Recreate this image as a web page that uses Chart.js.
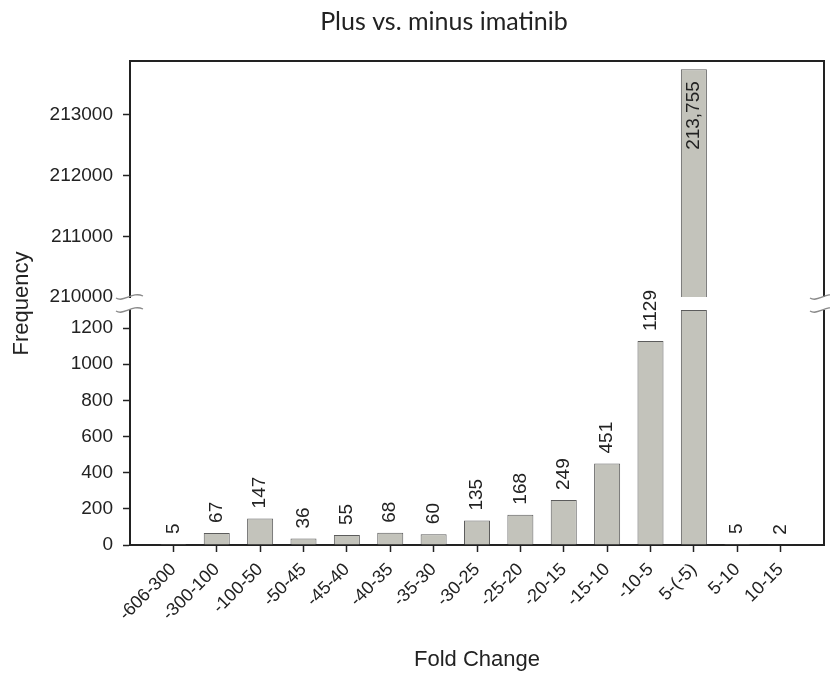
<!DOCTYPE html>
<html><head><meta charset="utf-8">
<script src="https://cdn.jsdelivr.net/npm/chart.js@4"></script>
<style>html,body{margin:0;padding:0;background:#fff}#wrap{width:830px;height:675px}</style>
</head><body><div id="wrap"><canvas id="c" width="830" height="675"></canvas></div>
<script>
const chartTitle = 'Plus vs. minus imatinib';
const xTitle = 'Fold Change';
const yTitle = 'Frequency';
const categories = ['-606-300','-300-100','-100-50','-50-45','-45-40','-40-35','-35-30','-30-25','-25-20','-20-15','-15-10','-10-5','5-(-5)','5-10','10-15'];
const frequencies = [5, 67, 147, 36, 55, 68, 60, 135, 168, 249, 451, 1129, 213755, 5, 2];
const lowTicks = [0, 200, 400, 600, 800, 1000, 1200];
const highTicks = [210000, 211000, 212000, 213000];
const lowRange = [0, 1300];
const highRange = [210000, 213890];

const LOW_MAX = lowRange[1];
const FONT = '"Liberation Sans", Arial, sans-serif';
const INK = '#222';

const lowData = frequencies.map((v, i) => ({x: i + 1, y: Math.min(v, LOW_MAX)}));
const highData = frequencies.map((v, i) => ({x: i + 1, y: v > LOW_MAX ? v : null}));

const titlePlugin = {
  id: 'mainTitle',
  afterDraw(chart) {
    const {ctx} = chart;
    ctx.save();
    ctx.font = '25px Lato, "Open Sans", sans-serif';
    ctx.fillStyle = INK;
    ctx.textAlign = 'center';
    ctx.textBaseline = 'middle';
    ctx.fillText(chartTitle, 444, 22);
    ctx.restore();
  }
};

const breakPlugin = {
  id: 'breaks',
  afterDraw(chart) {
    const {ctx, chartArea: {left, right, top, bottom}} = chart;
    const hi = chart.scales.yHigh, lo = chart.scales.yLow;
    ctx.save();
    ctx.strokeStyle = INK; ctx.lineWidth = 2;
    ctx.beginPath();
    ctx.moveTo(left - 1, top); ctx.lineTo(right + 1, top);
    ctx.moveTo(right, top); ctx.lineTo(right, hi.bottom);
    ctx.moveTo(right, lo.top); ctx.lineTo(right, bottom);
    ctx.stroke();
    ctx.strokeStyle = '#8a8a8a'; ctx.lineWidth = 1.3;
    for (const x of [left, right]) {
      for (const y of [hi.bottom, lo.top]) {
        ctx.beginPath();
        ctx.moveTo(x - 14, y + 1);
        ctx.bezierCurveTo(x - 6, y + 6, x + 2, y - 6, x + 13, y - 1);
        ctx.stroke();
      }
    }
    ctx.restore();
  }
};

const labelPlugin = {
  id: 'valueLabels',
  afterDatasetsDraw(chart) {
    const {ctx} = chart;
    const lowMeta = chart.getDatasetMeta(0), highMeta = chart.getDatasetMeta(1);
    ctx.save();
    ctx.font = '19px ' + FONT;
    ctx.fillStyle = INK;
    ctx.textBaseline = 'middle';
    frequencies.forEach((v, i) => {
      const txt = v >= 10000 ? v.toLocaleString('en-US') : String(v);
      let el, y, align;
      if (v > LOW_MAX) { el = highMeta.data[i]; y = el.y + 12; align = 'right'; }
      else { el = lowMeta.data[i]; y = el.y - 10; align = 'left'; }
      ctx.save();
      ctx.translate(el.x, y);
      ctx.rotate(-Math.PI / 2);
      ctx.textAlign = align;
      ctx.fillText(txt, 0, 0);
      ctx.restore();
    });
    ctx.restore();
  }
};

const barStyle = {
  backgroundColor: '#c3c3bb',
  borderColor: '#5c5c5c',
  borderWidth: 1,
  barPercentage: 0.6,
  categoryPercentage: 1,
  grouped: false
};

const yTickGrid = (hideVal) => ({
  drawOnChartArea: false, tickLength: 7, tickWidth: 1.5,
  tickColor: c => (c.tick && c.tick.value === hideVal) ? 'rgba(0,0,0,0)' : INK
});

new Chart(document.getElementById('c'), {
  type: 'bar',
  data: {
    datasets: [
      Object.assign({label: 'low', yAxisID: 'yLow', data: lowData}, barStyle),
      Object.assign({label: 'high', yAxisID: 'yHigh', data: highData, borderSkipped: false}, barStyle)
    ]
  },
  options: {
    responsive: false,
    animation: false,
    layout: {padding: {top: 61, right: 6, left: 0, bottom: 0}},
    plugins: {legend: {display: false}, tooltip: {enabled: false}, title: {display: false}},
    scales: {
      x: {
        type: 'linear', min: 0, max: categories.length + 1, offset: false,
        afterBuildTicks: s => { s.ticks = categories.map((c, i) => ({value: i + 1})); },
        ticks: {autoSkip: false, maxRotation: 45, minRotation: 45, padding: 7, color: INK,
                font: {size: 18, family: FONT}, callback: v => categories[v - 1] ?? ''},
        grid: {drawOnChartArea: false, offset: false, tickLength: 7, tickWidth: 1.5, tickColor: INK},
        border: {color: INK, width: 2},
        title: {display: true, text: xTitle, color: INK, font: {size: 22, family: FONT}, padding: {top: 4, bottom: 2}},
        afterFit: s => { s.height = 130; }
      },
      yLow: {
        type: 'linear', position: 'left', stack: 'y', stackWeight: 235,
        min: lowRange[0], max: lowRange[1],
        afterBuildTicks: s => { s.ticks = lowTicks.map(v => ({value: v})); },
        ticks: {autoSkip: false, padding: 10, color: INK, font: {size: 19, family: FONT}, callback: v => String(v)},
        grid: yTickGrid(null),
        border: {color: INK, width: 2},
        afterFit: s => { s.width = 130; }
      },
      yGap: {
        type: 'linear', position: 'left', stack: 'y', stackWeight: 13, min: 0, max: 1,
        ticks: {display: false}, grid: {display: false}, border: {display: false},
        title: {display: true, text: yTitle, color: INK, font: {size: 22, family: FONT}, padding: {top: 9, bottom: 0}},
        afterFit: s => { s.width = 130; }
      },
      yHigh: {
        type: 'linear', position: 'left', stack: 'y', stackWeight: 236,
        min: highRange[0], max: highRange[1],
        afterBuildTicks: s => { s.ticks = highTicks.map(v => ({value: v})); },
        ticks: {autoSkip: false, padding: 10, color: INK, font: {size: 19, family: FONT}, callback: v => String(v)},
        grid: yTickGrid(highRange[0]),
        border: {color: INK, width: 2},
        afterFit: s => { s.width = 130; }
      }
    }
  },
  plugins: [labelPlugin, breakPlugin, titlePlugin]
});
</script></body></html>
